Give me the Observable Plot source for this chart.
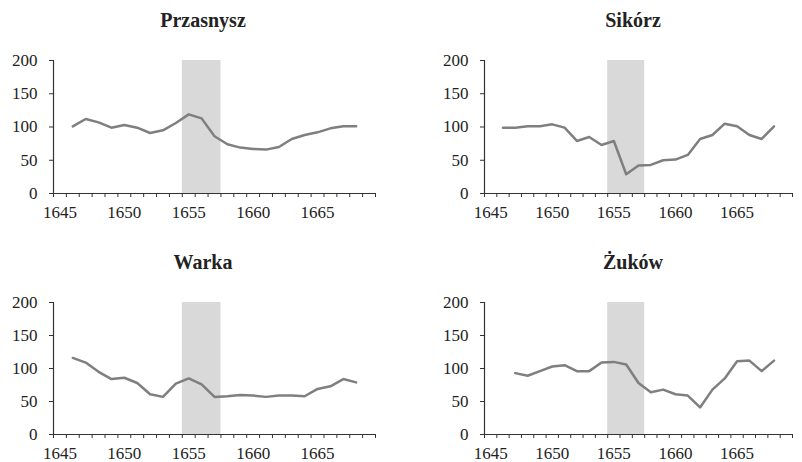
<!DOCTYPE html>
<html>
<head>
<meta charset="utf-8">
<script src="https://cdn.jsdelivr.net/npm/d3@7"></script>
<script src="https://cdn.jsdelivr.net/npm/@observablehq/plot@0.6"></script>
<style>
  html, body { margin: 0; padding: 0; background: #fff; }
  #chart { position: relative; width: 802px; height: 462px; overflow: hidden; background: #fff; }
  .panel { position: absolute; }
  #chart svg, #chart svg text { font-family: "Liberation Serif", "Times New Roman", serif !important; }
  .title { position: absolute; width: 200px; text-align: center; font-family: "Liberation Serif", "Times New Roman", serif; font-weight: bold; font-size: 20px; line-height: 20px; color: #222; }
</style>
</head>
<body>
<div id="chart"></div>
<script>
// Category axis (one band per year) and the years with observations
const categories = [1645,1646,1647,1648,1649,1650,1651,1652,1653,1654,1655,1656,1657,1658,1659,1660,1661,1662,1663,1664,1665,1666,1667,1668,1669];
const years = [1646,1647,1648,1649,1650,1651,1652,1653,1654,1655,1656,1657,1658,1659,1660,1661,1662,1663,1664,1665,1666,1667,1668];
const labelYears = [1645, 1650, 1655, 1660, 1665];
const yTicks = [0, 50, 100, 150, 200];
const shadeFrom = 1655;
const shadeTo = 1657;

const przasnysz = [101,112,107,99,103,99,91,95,106,119,113,86,74,69,67,66,70,82,88,92,98,101,101];
const sikorz    = [99,99,101,101,104,99,79,85,73,79,29,42,43,50,51,58,82,88,105,101,88,82,101];
const warka     = [116,109,95,84,86,78,61,57,77,85,76,57,58,60,59,57,59,59,58,69,73,84,79];
const zukow     = [null,93,89,96,103,105,96,96,109,110,106,78,64,68,61,59,41,68,85,111,112,96,112];

const panels = [
  {name: "Przasnysz", values: przasnysz, left: 0,   top: 0,   width: 400, height: 231, ml: 53, mr: 25, mt: 60, mb: 38, tx: 203, ty: 10},
  {name: "Sikórz",    values: sikorz,    left: 400, top: 0,   width: 402, height: 231, ml: 84, mr: 10, mt: 60, mb: 38, tx: 633, ty: 10},
  {name: "Warka",     values: warka,     left: 0,   top: 231, width: 400, height: 231, ml: 53, mr: 25, mt: 71, mb: 28, tx: 203, ty: 251.5},
  {name: "Żuków",     values: zukow,     left: 400, top: 231, width: 402, height: 231, ml: 84, mr: 10, mt: 71, mb: 28, tx: 633, ty: 251.5}
];

const chart = document.getElementById("chart");
const bounds = categories.map(c => c - 0.5).concat([categories[categories.length - 1] + 0.5]);
const axisColor = "#333";

for (const p of panels) {
  const data = years.map((y, i) => ({year: y, value: p.values[i]})).filter(d => d.value != null);
  const svg = Plot.plot({
    width: p.width,
    height: p.height,
    marginLeft: p.ml,
    marginRight: p.mr,
    marginTop: p.mt,
    marginBottom: p.mb,
    x: {domain: [bounds[0], bounds[bounds.length - 1]]},
    y: {domain: [0, 200]},
    style: {fontFamily: '"Liberation Serif", "Times New Roman", serif', fontSize: "17px", color: "#222", background: "transparent", overflow: "visible"},
    marks: [
      Plot.rect([{from: shadeFrom, to: shadeTo}], {x1: d => d.from - 0.5, x2: d => d.to + 0.5, y1: 0, y2: 200, fill: "#d9d9d9"}),
      Plot.ruleX([bounds[0]], {y1: 0, y2: 200, stroke: axisColor, strokeWidth: 1.2}),
      Plot.ruleY([0], {stroke: axisColor, strokeWidth: 1.2}),
      Plot.axisY({ticks: yTicks, tickSize: 4, tickPadding: 12, tickFormat: d => String(d), stroke: axisColor, label: null}),
      Plot.axisX({ticks: bounds, tickSize: 4, tickFormat: () => "", stroke: axisColor, label: null}),
      Plot.axisX({ticks: labelYears, tickSize: 0, tickPadding: 12, tickFormat: d => String(d), label: null}),
      Plot.line(data, {x: "year", y: "value", stroke: "#7f7f7f", strokeWidth: 2.5})
    ]
  });
  svg.classList.add("panel");
  svg.style.left = p.left + "px";
  svg.style.top = p.top + "px";
  chart.appendChild(svg);

  const t = document.createElement("div");
  t.className = "title";
  t.textContent = p.name;
  t.style.left = (p.tx - 100) + "px";
  t.style.top = p.ty + "px";
  chart.appendChild(t);
}
</script>
</body>
</html>
